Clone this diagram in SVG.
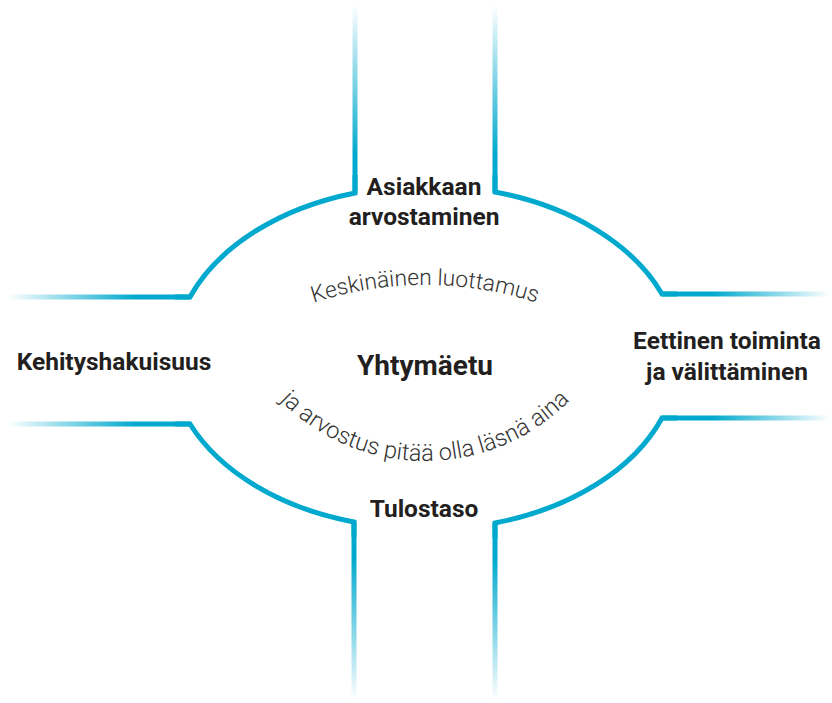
<svg xmlns="http://www.w3.org/2000/svg" width="832" height="703" viewBox="0 0 832 703">
  <style>
    .road { fill: none; stroke: #00a9cd; stroke-width: 5; stroke-linejoin: miter; }
    .label { font-family: Roboto, "Liberation Sans", sans-serif; font-weight: bold; font-size: 24.5px; fill: #231f20; text-anchor: middle; }
    .center { font-size: 28px; }
    .arc-text { font-family: Roboto, "Open Sans", "Liberation Sans", sans-serif; font-weight: 300; font-size: 23.5px; fill: #333333; }
    .upper { font-size: 22.7px; }
  </style>
  <defs>
    <linearGradient id="fadeUp" x1="0" y1="0" x2="0" y2="1">
      <stop offset="0" stop-color="#00a9cd" stop-opacity="0"/>
      <stop offset="0.8" stop-color="#00a9cd" stop-opacity="1"/>
    </linearGradient>
    <linearGradient id="fadeDown" x1="0" y1="0" x2="0" y2="1">
      <stop offset="0.2" stop-color="#00a9cd" stop-opacity="1"/>
      <stop offset="1" stop-color="#00a9cd" stop-opacity="0"/>
    </linearGradient>
    <linearGradient id="fadeLeft" x1="0" y1="0" x2="1" y2="0">
      <stop offset="0" stop-color="#00a9cd" stop-opacity="0"/>
      <stop offset="0.7" stop-color="#00a9cd" stop-opacity="1"/>
    </linearGradient>
    <linearGradient id="fadeRight" x1="0" y1="0" x2="1" y2="0">
      <stop offset="0.3" stop-color="#00a9cd" stop-opacity="1"/>
      <stop offset="1" stop-color="#00a9cd" stop-opacity="0"/>
    </linearGradient>
    <path id="upperArc" d="M195.5,368.5 A357,357 0 0 1 654.5,368.5"/>
    <path id="lowerArc" d="M249.2,359.5 A203,203 0 0 0 600.8,359.5"/>
  </defs>
  <rect width="832" height="703" fill="#ffffff"/>

  <g id="connectors">
    <rect x="352.5" y="5" width="5" height="188" fill="url(#fadeUp)"/>
    <rect x="492.5" y="5" width="5" height="187" fill="url(#fadeUp)"/>
    <rect x="8" y="294.5" width="182" height="5" fill="url(#fadeLeft)"/>
    <rect x="662" y="291.5" width="168" height="5" fill="url(#fadeRight)"/>
    <rect x="8" y="421.5" width="182" height="5" fill="url(#fadeLeft)"/>
    <rect x="662" y="415.5" width="168" height="5" fill="url(#fadeRight)"/>
    <rect x="351.5" y="522" width="5" height="178" fill="url(#fadeDown)"/>
    <rect x="492.5" y="523" width="5" height="177" fill="url(#fadeDown)"/>

    <path class="road" d="M355,175 L355,193 A251,172 0 0 0 190,297 L175,297"/>
    <path class="road" d="M495,175 L495,192 A251,172 0 0 1 662,294 L677,294"/>
    <path class="road" d="M175,424 L190,424 A251,172 0 0 0 354,522 L354,537"/>
    <path class="road" d="M677,418 L662,418 A251,172 0 0 1 495,523 L495,538"/>
  </g>

  <g id="node-top">
    <text class="label" x="424" y="195">Asiakkaan</text>
    <text class="label" x="424" y="225">arvostaminen</text>
  </g>
  <g id="node-left">
    <text class="label" x="114" y="370">Kehityshakuisuus</text>
  </g>
  <g id="node-right">
    <text class="label" x="727" y="349">Eettinen toiminta</text>
    <text class="label" x="727" y="380">ja välittäminen</text>
  </g>
  <g id="node-bottom">
    <text class="label" x="424" y="517">Tulostaso</text>
  </g>
  <g id="node-center">
    <text class="label center" x="425" y="375">Yhtymäetu</text>
  </g>
  <g id="arc-texts">
    <text class="arc-text upper"><textPath href="#upperArc" startOffset="50%" text-anchor="middle">Keskinäinen luottamus</textPath></text>
    <text class="arc-text"><textPath href="#lowerArc" startOffset="50%" text-anchor="middle">ja arvostus pitää olla läsnä aina</textPath></text>
  </g>
</svg>
